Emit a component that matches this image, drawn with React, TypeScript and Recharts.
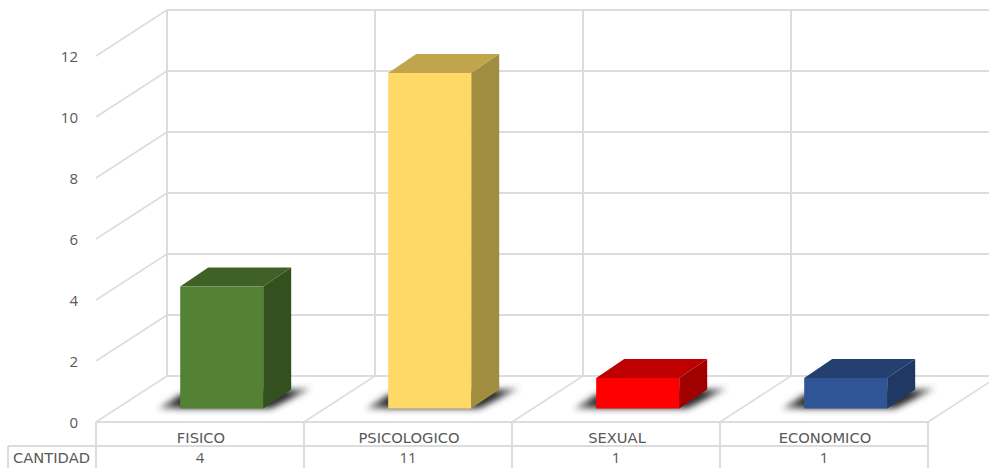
import { BarChart, Bar, XAxis, YAxis, CartesianGrid } from 'recharts';

const categories = ['FISICO', 'PSICOLOGICO', 'SEXUAL', 'ECONOMICO'];
const cantidad = [4, 11, 1, 1];
const yTicks = [0, 2, 4, 6, 8, 10, 12];
const rowLabel = 'CANTIDAD';

const chartData = categories.map((name, i) => ({ name, value: cantidad[i] }));

// front, top, side
const BAR_COLORS = [
  ['#548235', '#3f6127', '#33501f'],
  ['#ffd966', '#c0a54d', '#a18d40'],
  ['#ff0000', '#bf0000', '#a00000'],
  ['#2f5597', '#234070', '#1f3864'],
];

const GRID = '#dcdcdc';
const TEXT = '#595959';
const TICK_FONT = '"Open Sans", sans-serif';
const TABLE_FONT = '"DejaVu Sans", sans-serif';

const WIDTH = 989;
const HEIGHT = 468;
const PLOT_LEFT = 96;
const PLOT_BOTTOM = 422;
const BAND = 208;
const WALL_TOP = 10;
// how far the back wall sits from the front plane
const WALL_DX = 71;
const WALL_DY = -46;
// where the bars stand on the floor, relative to the front plane
const BAR_DX = 21.8;
const BAR_DY = -13.5;
const DEPTH_DX = 28;
const DEPTH_DY = -19;

// grid lines get drawn under the bars, the axis ticks do not
function WallHorizontal({ y1 }: any) {
  const backY = y1 + WALL_DY;
  return (
    <g>
      {y1 < PLOT_BOTTOM - 1 && (
        <line x1={PLOT_LEFT} y1={y1} x2={PLOT_LEFT + WALL_DX} y2={backY} stroke={GRID} strokeWidth={1.5} />
      )}
      <line x1={PLOT_LEFT + WALL_DX} y1={backY} x2={WIDTH} y2={backY} stroke={GRID} strokeWidth={2} />
    </g>
  );
}

function WallVertical({ x1, index }: any) {
  const left = x1 - BAND / 2;
  const floor = PLOT_BOTTOM + WALL_DY;
  return (
    <g>
      <line x1={left + WALL_DX} y1={WALL_TOP} x2={left + WALL_DX} y2={floor} stroke={GRID} strokeWidth={2} />
      <line x1={left} y1={PLOT_BOTTOM} x2={left + WALL_DX} y2={floor} stroke={GRID} strokeWidth={1.5} />
      {index === categories.length - 1 && (
        <line x1={left + BAND} y1={PLOT_BOTTOM} x2={left + BAND + WALL_DX} y2={floor} stroke={GRID} strokeWidth={1.5} />
      )}
    </g>
  );
}

function ValueTick({ y, payload }: any) {
  return (
    <text x={78} y={y} textAnchor="end" dominantBaseline="central" fill={TEXT} fontSize={15} fontFamily={TICK_FONT}>
      {payload.value}
    </text>
  );
}

function TableTick({ x, index, payload }: any) {
  const left = x - BAND / 2;
  const right = x + BAND / 2;
  return (
    <g>
      <line x1={left} y1={PLOT_BOTTOM} x2={left} y2={HEIGHT} stroke={GRID} strokeWidth={2} />
      <line x1={left} y1={PLOT_BOTTOM} x2={right} y2={PLOT_BOTTOM} stroke={GRID} strokeWidth={2} />
      <line x1={left} y1={446} x2={right} y2={446} stroke={GRID} strokeWidth={2} />
      <text x={x + 1} y={437} textAnchor="middle" dominantBaseline="central" fill={TEXT} fontSize={14.7} fontFamily={TABLE_FONT}>
        {payload.value}
      </text>
      <text x={x} y={457} textAnchor="middle" dominantBaseline="central" fill={TEXT} fontSize={15} fontFamily={TICK_FONT}>
        {cantidad[index]}
      </text>
      {index === 0 && (
        <g>
          <line x1={8} y1={446} x2={left} y2={446} stroke={GRID} strokeWidth={2} />
          <line x1={8} y1={446} x2={8} y2={HEIGHT} stroke={GRID} strokeWidth={2} />
          <text x={13} y={457} dominantBaseline="central" fill={TEXT} fontSize={14.7} fontFamily={TABLE_FONT}>
            {rowLabel}
          </text>
        </g>
      )}
      {index === categories.length - 1 && (
        <line x1={right} y1={PLOT_BOTTOM} x2={right} y2={HEIGHT} stroke={GRID} strokeWidth={2} />
      )}
    </g>
  );
}

function Bar3D({ x, y, width, height, index }: any) {
  const [front, top, side] = BAR_COLORS[index];
  const l = x + BAR_DX;
  const r = l + width;
  const t = y + BAR_DY;
  const b = t + height;
  const dx = DEPTH_DX;
  const dy = DEPTH_DY;
  return (
    <g>
      <polygon
        points={`${l - 22},${b} ${l},${b - 14} ${r + 48},${b - 20} ${r + 8},${b}`}
        fill="url(#shadowFade)"
        filter="url(#floorShadow)"
      />
      <polygon points={`${l},${t} ${l + dx},${t + dy} ${r + dx},${t + dy} ${r},${t}`} fill={top} />
      <polygon points={`${r},${t} ${r + dx},${t + dy} ${r + dx},${b + dy} ${r},${b}`} fill={side} />
      <rect x={l} y={t} width={width} height={height} fill={front} />
    </g>
  );
}

export default function App() {
  return (
    <div style={{ position: 'absolute', left: 0, top: 0, width: WIDTH, height: HEIGHT, overflow: 'hidden', background: '#fff' }}>
      <BarChart
        width={WIDTH}
        height={HEIGHT}
        data={chartData}
        barCategoryGap="30%"
        margin={{ top: 56, right: 61, bottom: 0, left: 0 }}
      >
        <defs>
          <filter id="floorShadow" x="-20%" y="-60%" width="140%" height="220%">
            <feGaussianBlur stdDeviation="3" />
          </filter>
          <linearGradient id="shadowFade" x1="0" y1="0" x2="1" y2="0">
            <stop offset="0" stopColor="#555" stopOpacity={0.7} />
            <stop offset="0.15" stopColor="#2a2a2a" />
            <stop offset="0.85" stopColor="#2a2a2a" />
            <stop offset="1" stopColor="#555" stopOpacity={0.6} />
          </linearGradient>
        </defs>
        <CartesianGrid horizontal={WallHorizontal} vertical={WallVertical} syncWithTicks />
        <YAxis
          type="number"
          width={PLOT_LEFT}
          domain={[0, 12]}
          ticks={yTicks}
          interval={0}
          axisLine={false}
          tickLine={false}
          tick={ValueTick}
        />
        <XAxis
          dataKey="name"
          height={HEIGHT - PLOT_BOTTOM}
          interval={0}
          axisLine={false}
          tickLine={false}
          tick={TableTick}
        />
        <Bar dataKey="value" isAnimationActive={false} shape={Bar3D} />
      </BarChart>
    </div>
  );
}
